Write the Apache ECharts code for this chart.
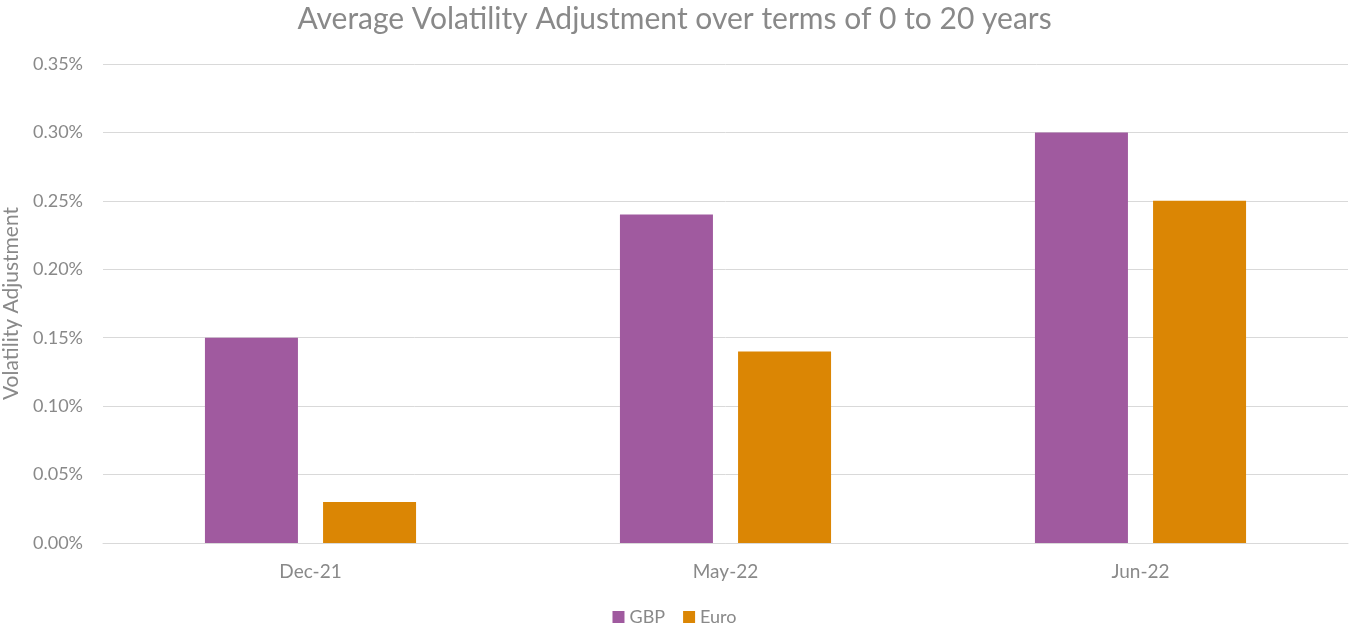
<!DOCTYPE html>
<html><head><meta charset="utf-8">
<script src="https://cdn.jsdelivr.net/npm/echarts@6/dist/echarts.min.js"></script>
<style>html,body{margin:0;padding:0;background:#fff}#c{width:1349px;height:632px}</style>
</head><body><div id="c"></div>
<script>
const categories = ['Dec-21', 'May-22', 'Jun-22'];
const gbp = [0.15, 0.24, 0.30];
const euro = [0.03, 0.14, 0.25];
const seriesNames = ['GBP', 'Euro'];
const titleText = 'Average Volatility Adjustment over terms of 0 to 20 years';
const yAxisName = 'Volatility Adjustment';

const txt = '#898989';
const font = 'Lato, "Open Sans", sans-serif';
const chart = echarts.init(document.getElementById('c'));
chart.setOption({
  animation: false,
  textStyle: { fontFamily: font },
  title: { text: titleText, left: 'center', top: -1, textStyle: { color: txt, fontSize: 30, fontWeight: 'normal', fontFamily: font } },
  legend: { data: seriesNames, bottom: 1, left: 'center', itemWidth: 12, itemHeight: 12, itemGap: 18, icon: 'rect',
    textStyle: { color: txt, fontSize: 18, fontFamily: font } },
  grid: { left: 103, right: 1, top: 64, bottom: 89, containLabel: false, outerBoundsMode: 'none' },
  xAxis: { type: 'category', data: categories,
    axisLine: { lineStyle: { color: '#d9d9d9' } }, axisTick: { show: false },
    axisLabel: { color: txt, fontSize: 19, margin: 19, fontFamily: font } },
  yAxis: { type: 'value', min: 0, max: 0.35, interval: 0.05,
    name: yAxisName, nameLocation: 'middle', nameGap: 78, nameRotate: 90,
    nameTextStyle: { color: txt, fontSize: 21, fontFamily: font },
    axisLine: { show: false }, axisTick: { show: false },
    splitLine: { lineStyle: { color: '#d9d9d9' } },
    axisLabel: { color: txt, fontSize: 18, margin: 20, fontFamily: font, formatter: v => v.toFixed(2) + '%' } },
  series: [
    { name: seriesNames[0], type: 'bar', data: gbp, barWidth: 93, barGap: '27%', itemStyle: { color: '#A05A9F' } },
    { name: seriesNames[1], type: 'bar', data: euro, barWidth: 93, barGap: '27%', itemStyle: { color: '#DB8604' } }
  ]
});
</script></body></html>
